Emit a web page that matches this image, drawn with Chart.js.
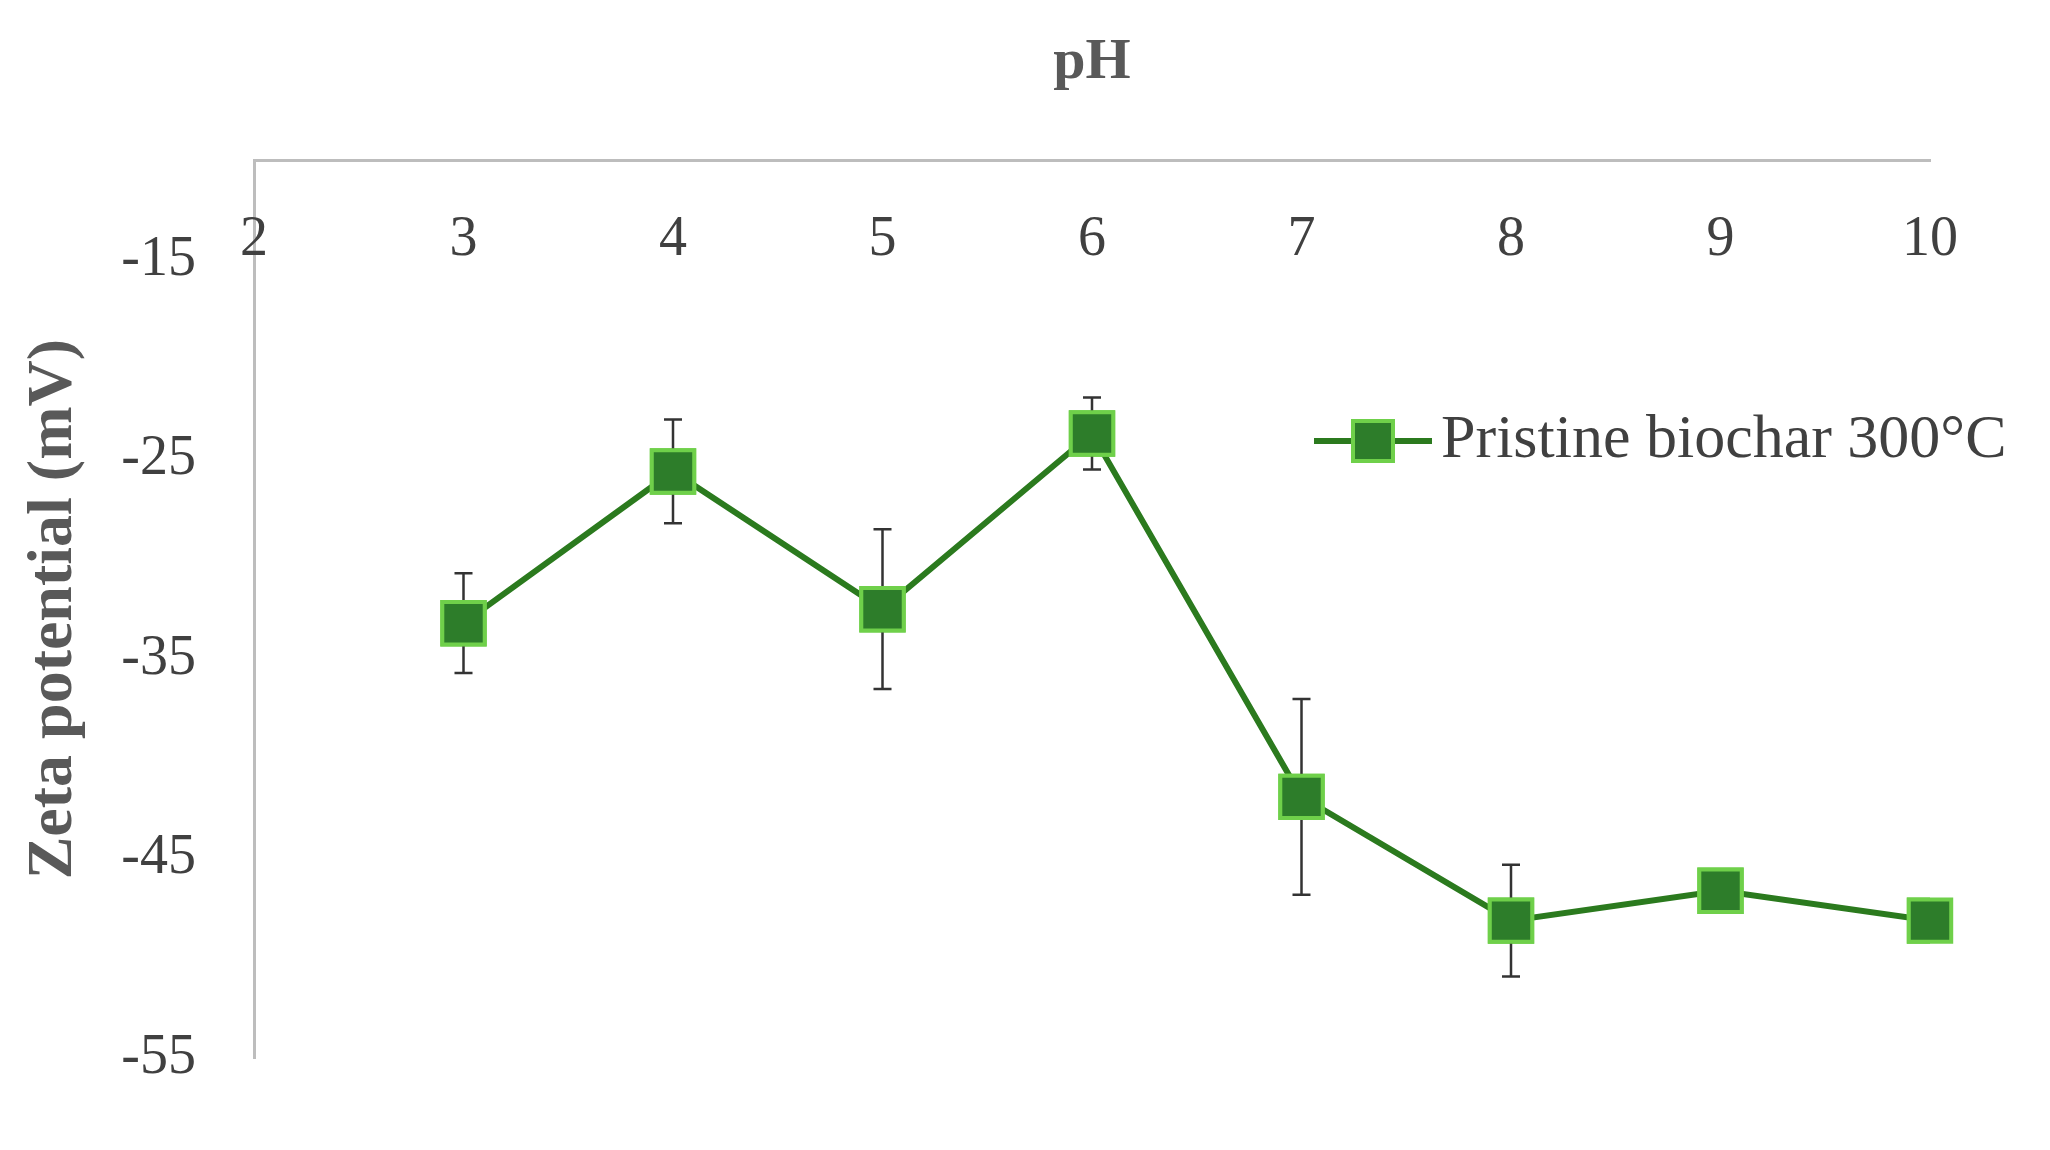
<!DOCTYPE html>
<html>
<head>
<meta charset="utf-8">
<script src="https://cdn.jsdelivr.net/npm/chart.js@4/dist/chart.umd.min.js"></script>
<style>
  html, body { margin: 0; padding: 0; background: #fff; }
  #wrap { width: 2050px; height: 1150px; }
</style>
</head>
<body>
<div id="wrap"><canvas id="chart"></canvas></div>
<script>
const phValues = [3, 4, 5, 6, 7, 8, 9, 10];
const zeta = [-33.2, -25.6, -32.5, -23.7, -41.9, -48.1, -46.6, -48.1];
const zetaErr = [2.5, 2.6, 4.0, 1.8, 4.9, 2.8, 0.4, 0.3];
const xTicks = [2, 3, 4, 5, 6, 7, 8, 9, 10];
const yTicks = [-55, -45, -35, -25, -15];
const seriesName = 'Pristine biochar 300\u00B0C';

const FONT = '"Liberation Serif", "Times New Roman", serif';
const lineColor = '#2b7a1e';
const fillColor = '#2d7d2a';
const edgeColor = '#6fd04a';

// error bars, x tick labels under the top axis, and the legend
const extras = {
  id: 'extras',
  afterDatasetsDraw(chart) {
    const { ctx, scales: { x, y } } = chart;
    ctx.save();
    ctx.strokeStyle = '#333';
    ctx.lineWidth = 2.5;
    phValues.forEach((ph, i) => {
      const px = x.getPixelForValue(ph);
      const top = y.getPixelForValue(zeta[i] + zetaErr[i]);
      const bot = y.getPixelForValue(zeta[i] - zetaErr[i]);
      ctx.beginPath();
      ctx.moveTo(px, top); ctx.lineTo(px, bot);
      ctx.moveTo(px - 9, top); ctx.lineTo(px + 9, top);
      ctx.moveTo(px - 9, bot); ctx.lineTo(px + 9, bot);
      ctx.stroke();
    });
    ctx.restore();
  },
  afterDraw(chart) {
    const { ctx, scales: { x } } = chart;
    chart.getDatasetMeta(0).data.forEach(p => p.draw(ctx));
    ctx.save();
    ctx.fillStyle = '#404040';
    ctx.font = '56px ' + FONT;
    ctx.textAlign = 'center';
    ctx.textBaseline = 'middle';
    xTicks.forEach(v => ctx.fillText(String(v), x.getPixelForValue(v), chart.chartArea.top + 80));
    // legend
    const lx = 1314, ly = 441;
    ctx.strokeStyle = lineColor;
    ctx.lineWidth = 6;
    ctx.beginPath(); ctx.moveTo(lx, ly); ctx.lineTo(lx + 118, ly); ctx.stroke();
    ctx.fillStyle = fillColor;
    ctx.strokeStyle = edgeColor;
    ctx.lineWidth = 4;
    ctx.fillRect(lx + 39, ly - 20, 40, 40);
    ctx.strokeRect(lx + 39, ly - 20, 40, 40);
    ctx.fillStyle = '#404040';
    ctx.font = '62px ' + FONT;
    ctx.textAlign = 'left';
    ctx.fillText(seriesName, lx + 127, ly);
    ctx.restore();
  }
};

new Chart(document.getElementById('chart'), {
  type: 'line',
  data: {
    datasets: [{
      label: seriesName,
      data: phValues.map((ph, i) => ({ x: ph, y: zeta[i] })),
      borderColor: lineColor,
      borderWidth: 6,
      pointStyle: 'rect',
      pointRadius: 30,
      pointBackgroundColor: fillColor,
      pointBorderColor: edgeColor,
      pointBorderWidth: 4,
      tension: 0
    }]
  },
  options: {
    responsive: true,
    maintainAspectRatio: false,
    animation: false,
    layout: { padding: { top: 0, left: 0, right: 120, bottom: 6 } },
    plugins: { legend: { display: false }, tooltip: { enabled: false } },
    scales: {
      x: {
        type: 'linear',
        position: 'top',
        min: 2, max: 10,
        afterBuildTicks: s => { s.ticks = xTicks.map(v => ({ value: v })); },
        afterFit: s => { s.height = 160; },
        grid: { display: false, drawTicks: false },
        border: { color: '#bdbdbd', width: 3 },
        ticks: { display: false },
        title: { display: true, text: 'pH', color: '#595959', padding: { top: 28, bottom: 0 },
                 font: { family: FONT, size: 58, weight: 'bold' } }
      },
      y: {
        min: -55, max: -10,
        afterBuildTicks: s => { s.ticks = yTicks.map(v => ({ value: v })); },
        afterFit: s => { s.width = 254; },
        grid: { display: false, drawTicks: false },
        border: { color: '#bdbdbd', width: 3 },
        ticks: { padding: 58, color: '#404040', font: { family: FONT, size: 56 } },
        title: { display: true, text: 'Zeta potential (mV)', color: '#595959', padding: { top: 16, bottom: 0 },
                 font: { family: FONT, size: 64, weight: 'bold' } }
      }
    }
  },
  plugins: [extras]
});
</script>
</body>
</html>
